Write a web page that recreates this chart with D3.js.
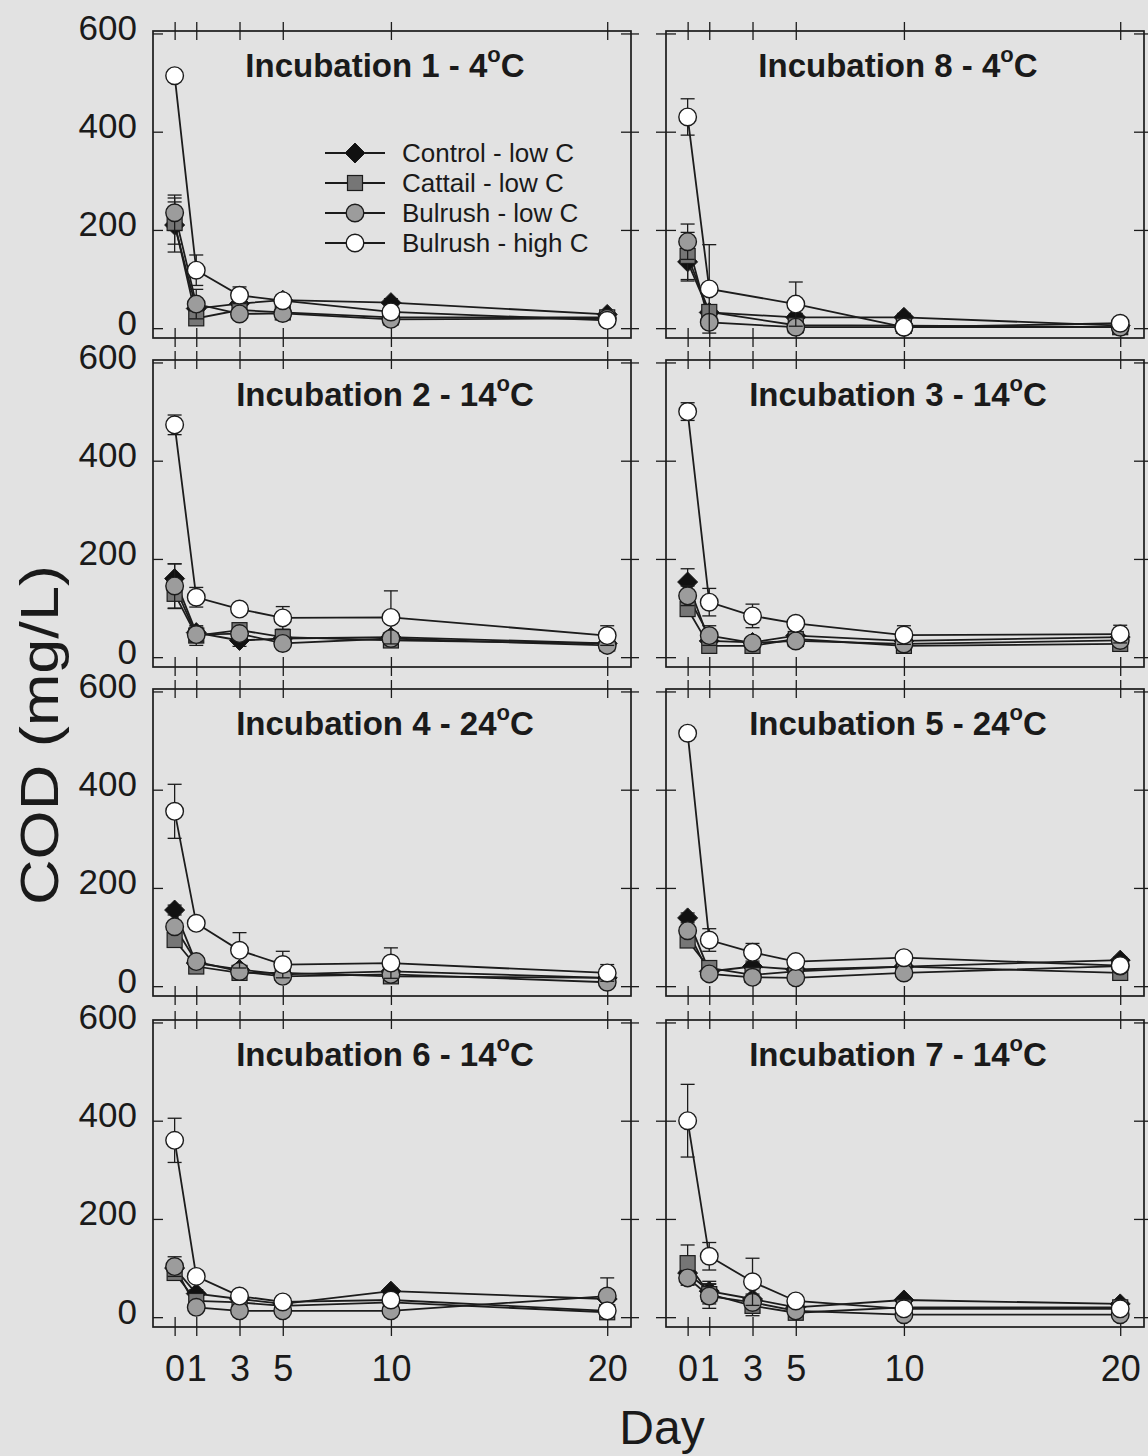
<!DOCTYPE html>
<html>
<head>
<meta charset="utf-8">
<script src="https://cdn.jsdelivr.net/npm/d3@7"></script>
<style>
  html, body { margin: 0; padding: 0; background: #e2e2e2; }
  svg { display: block; }
  text { font-family: "Liberation Sans", Arial, Helvetica, sans-serif; fill: #1a1a1a; }
</style>
</head>
<body>
<svg id="chart" width="1148" height="1456"></svg>
<script>
// ---------------- data ----------------
const days = [0, 1, 3, 5, 10, 20];
const yTicks = [0, 200, 400, 600];
const incubationNo = [1, 8, 2, 3, 4, 5, 6, 7];
const incubationTemp = [4, 4, 14, 14, 24, 24, 14, 14];
const seriesNames = ["Control - low C", "Cattail - low C", "Bulrush - low C", "Bulrush - high C"];

// COD (mg/L) per panel (rows: panels in reading order), columns: days
const controlLowC = [
  [210, 40, 50, 57, 52, 28],
  [135, 32, null, 22, 22, 5],
  [160, 50, 34, 38, 41, 28],
  [153, 33, 30, 44, 33, 41],
  [155, 47, 34, 24, 30, 17],
  [139, 30, 40, 34, 40, 53],
  [100, 48, 37, 27, 53, 37],
  [90, 53, 37, 20, 35, 27]
];
const controlLowCErr = [
  [55, 12, 8, 8, 8, 5],
  [39, 10, 0, 8, 8, 4],
  [30, 8, 12, 5, 5, 5],
  [27, 8, 8, 6, 6, 5],
  [10, 8, 6, 5, 5, 4],
  [10, 8, 8, 5, 6, 6],
  [10, 8, 6, 5, 6, 5],
  [15, 20, 10, 5, 6, 5]
];
const cattailLowC = [
  [214, 20, 37, 32, 22, 22],
  [147, 33, null, 6, 5, 2],
  [129, 44, 55, 41, 34, 28],
  [98, 23, 23, 37, 23, 27],
  [94, 40, 27, 27, 20, 17],
  [93, 37, 23, 30, 40, 27],
  [90, 33, 30, 23, 30, 10],
  [110, 47, 23, 9, 20, 20]
];
const cattailLowCErr = [
  [43, 10, 6, 6, 5, 5],
  [48, 8, 0, 5, 4, 3],
  [30, 20, 8, 5, 8, 5],
  [15, 6, 6, 6, 5, 5],
  [10, 6, 5, 5, 5, 4],
  [10, 6, 5, 5, 5, 5],
  [8, 6, 5, 5, 5, 4],
  [37, 20, 20, 5, 5, 5]
];
const bulrushLowC = [
  [235, 49, 29, 30, 18, 20],
  [176, 12, null, 2, 2, 2],
  [145, 46, 48, 28, 38, 24],
  [125, 44, 29, 33, 27, 34],
  [121, 50, 30, 20, 24, 8],
  [113, 25, 18, 17, 27, 41],
  [103, 20, 13, 13, 13, 43],
  [80, 43, 30, 13, 5, 5]
];
const bulrushLowCErr = [
  [36, 30, 6, 6, 5, 4],
  [36, 6, 0, 4, 3, 3],
  [45, 15, 8, 8, 10, 5],
  [20, 20, 6, 6, 5, 5],
  [10, 8, 6, 5, 5, 4],
  [10, 6, 5, 5, 5, 5],
  [20, 6, 5, 5, 5, 37],
  [15, 25, 10, 5, 4, 4]
];
const bulrushHighC = [
  [514, 118, 67, 56, 33, 16],
  [430, 80, null, 49, 2, 10],
  [473, 122, 98, 80, 81, 44],
  [500, 112, 84, 69, 45, 47],
  [356, 128, 73, 44, 47, 27],
  [515, 94, 69, 50, 58, 42],
  [360, 83, 43, 31, 35, 13],
  [400, 124, 72, 33, 17, 17]
];
const bulrushHighCErr = [
  [8, 31, 17, 12, 8, 5],
  [37, 90, 0, 45, 5, 5],
  [20, 20, 5, 23, 54, 20],
  [18, 28, 24, 8, 19, 18],
  [55, 8, 36, 27, 31, 17],
  [10, 23, 18, 8, 8, 8],
  [45, 8, 8, 5, 8, 5],
  [74, 28, 48, 5, 5, 5]
];

// ---------------- layout ----------------
const svg = d3.select("#chart");
const W = 1148, H = 1456;
svg.append("rect").attr("width", W).attr("height", H).attr("fill", "#e2e2e2");

const panelW = 478, panelH = 307;
const colLeft = [153, 666];
const rowTop = [31, 360, 689, 1020];

const x = d3.scaleLinear().domain([-1, 21.1]).range([0, panelW]);
const y = d3.scaleLinear().domain([-20, 605]).range([panelH, 0]);

const seriesData = [
  { name: seriesNames[0], vals: controlLowC, errs: controlLowCErr, shape: "diamond", fill: "#111111" },
  { name: seriesNames[1], vals: cattailLowC, errs: cattailLowCErr, shape: "square", fill: "#767676" },
  { name: seriesNames[2], vals: bulrushLowC, errs: bulrushLowCErr, shape: "circle", fill: "#9c9c9c" },
  { name: seriesNames[3], vals: bulrushHighC, errs: bulrushHighCErr, shape: "circle", fill: "#ffffff" }
];

const ink = "#1c1c1c";

function drawMarker(g, shape, fill, cx, cy) {
  if (shape === "circle") {
    g.append("circle").attr("cx", cx).attr("cy", cy).attr("r", 8.8)
      .attr("fill", fill).attr("stroke", ink).attr("stroke-width", 1.4);
  } else if (shape === "square") {
    g.append("rect").attr("x", cx - 7.5).attr("y", cy - 7.5).attr("width", 15).attr("height", 15)
      .attr("fill", fill).attr("stroke", ink).attr("stroke-width", 1.2);
  } else {
    const r = 10;
    g.append("path").attr("d", `M${cx},${cy - r}L${cx + r},${cy}L${cx},${cy + r}L${cx - r},${cy}Z`)
      .attr("fill", fill).attr("stroke", ink).attr("stroke-width", 1);
  }
}

incubationNo.forEach((num, p) => {
  const col = p % 2, row = Math.floor(p / 2);
  const g = svg.append("g").attr("transform", `translate(${colLeft[col]},${rowTop[row]})`);

  // frame
  g.append("rect").attr("width", panelW).attr("height", panelH)
    .attr("fill", "none").attr("stroke", ink).attr("stroke-width", 1.7);

  // bottom axis
  const isBottom = row === 3;
  const bx = g.append("g").attr("transform", `translate(0,${panelH})`)
    .call(d3.axisBottom(x).tickValues(days).tickSize(9).tickSizeOuter(0).tickPadding(19)
      .tickFormat(isBottom ? d3.format("d") : () => ""));
  bx.select(".domain").remove();
  bx.selectAll(".tick line").attr("y1", -10).attr("y2", 9).attr("stroke", ink).attr("stroke-width", 1.3);
  bx.selectAll(".tick text").attr("font-size", 36).attr("fill", "#1a1a1a")
    .attr("font-family", '"Liberation Sans", Arial, sans-serif').attr("dy", "0.72em");

  // top axis
  const tx = g.append("g")
    .call(d3.axisTop(x).tickValues(days).tickSize(9).tickSizeOuter(0).tickFormat(() => ""));
  tx.select(".domain").remove();
  tx.selectAll(".tick line").attr("y1", -9).attr("y2", 9).attr("stroke", ink).attr("stroke-width", 1.3);

  // left axis
  const isLeft = col === 0;
  const ly = g.append("g")
    .call(d3.axisLeft(y).tickValues(yTicks).tickSize(isLeft ? 0 : 10).tickSizeOuter(0).tickPadding(16)
      .tickFormat(isLeft ? d3.format("d") : () => ""));
  ly.select(".domain").remove();
  ly.selectAll(".tick line").attr("x1", isLeft ? 0 : -10).attr("x2", 10).attr("stroke", ink).attr("stroke-width", 1.3);
  ly.selectAll(".tick text").attr("font-size", 35).attr("fill", "#1a1a1a")
    .attr("font-family", '"Liberation Sans", Arial, sans-serif').attr("dy", "0.17em");

  // right axis
  const ry = g.append("g").attr("transform", `translate(${panelW},0)`)
    .call(d3.axisRight(y).tickValues(yTicks).tickSize(8).tickSizeOuter(0).tickFormat(() => ""));
  ry.select(".domain").remove();
  ry.selectAll(".tick line").attr("x1", -10).attr("x2", 8).attr("stroke", ink).attr("stroke-width", 1.3);

  // title
  const title = g.append("text").attr("x", panelW / 2 - 7).attr("y", 46)
    .attr("text-anchor", "middle").attr("font-size", 33).attr("font-weight", "bold");
  title.append("tspan").text(`Incubation ${num} - ${incubationTemp[p]}`);
  title.append("tspan").attr("font-size", 22).attr("dy", -15).text("o");
  title.append("tspan").attr("dy", 15).text("C");

  // lines
  const line = d3.line().x(d => x(d.day)).y(d => y(d.v));
  seriesData.forEach(s => {
    const pts = days.map((day, i) => ({ day, v: s.vals[p][i] })).filter(d => d.v != null);
    g.append("path").datum(pts).attr("d", line)
      .attr("fill", "none").attr("stroke", ink).attr("stroke-width", 1.8);
  });

  // error bars + markers
  seriesData.forEach(s => {
    const pts = days.map((day, i) => ({ day, v: s.vals[p][i], e: s.errs[p][i] })).filter(d => d.v != null);
    const eg = g.append("g").attr("stroke", ink).attr("stroke-width", 1.3);
    pts.forEach(d => {
      if (!d.e) return;
      const cx = x(d.day), y1 = y(d.v + d.e), y2 = y(Math.max(d.v - d.e, -18));
      eg.append("line").attr("x1", cx).attr("x2", cx).attr("y1", y1).attr("y2", y2);
      eg.append("line").attr("x1", cx - 7).attr("x2", cx + 7).attr("y1", y1).attr("y2", y1);
      if (d.v - d.e > -18) eg.append("line").attr("x1", cx - 7).attr("x2", cx + 7).attr("y1", y2).attr("y2", y2);
    });
    pts.forEach(d => drawMarker(g, s.shape, s.fill, x(d.day), y(d.v)));
  });

  // legend in first panel
  if (p === 0) {
    const lg = g.append("g");
    seriesData.forEach((s, i) => {
      const ly0 = 122 + i * 30;
      lg.append("line").attr("x1", 172).attr("x2", 232).attr("y1", ly0).attr("y2", ly0)
        .attr("stroke", ink).attr("stroke-width", 1.8);
      drawMarker(lg, s.shape, s.fill, 202, ly0);
      lg.append("text").attr("x", 249).attr("y", ly0).attr("dy", "0.36em")
        .attr("font-size", 26).text(s.name);
    });
  }
});

// axis titles
svg.append("text").attr("transform", "translate(58,735) rotate(-90)")
  .attr("text-anchor", "middle").attr("font-size", 54)
  .attr("textLength", 340).attr("lengthAdjust", "spacingAndGlyphs")
  .text("COD (mg/L)");
svg.append("text").attr("x", 662).attr("y", 1444).attr("text-anchor", "middle")
  .attr("font-size", 48).text("Day");
</script>
</body>
</html>
